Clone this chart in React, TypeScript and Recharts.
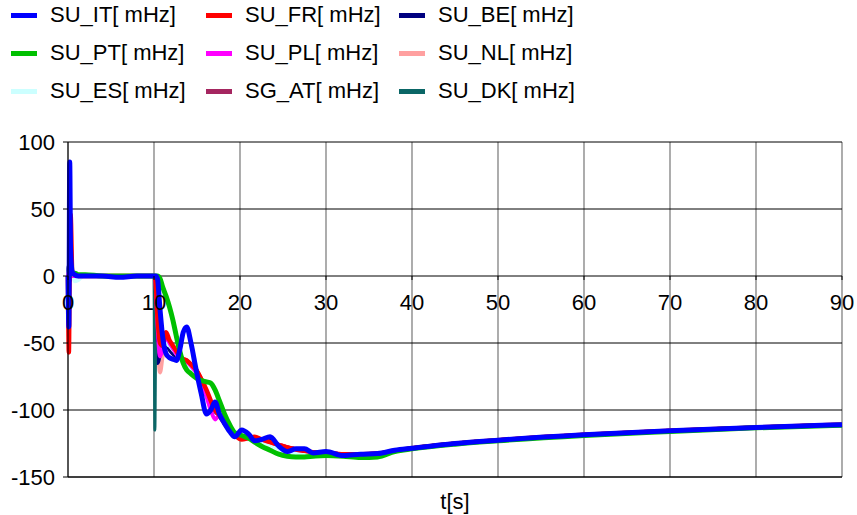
import React from 'react';
import { LineChart, Line, XAxis, YAxis, CartesianGrid } from 'recharts';

// time axis [s]
const time = [
  0, 0.1, 0.2, 0.3, 0.5, 0.8, 1.2, 2, 4, 6,
  8, 10, 10.1, 10.2, 10.4, 10.7, 11, 11.4, 11.8, 12.2,
  12.6, 13, 13.4, 13.8, 14.3, 14.9, 15.5, 16.1, 16.6, 17.1,
  17.6, 18.2, 18.8, 19.4, 20.2, 21, 21.7, 22.5, 23.5, 24.5,
  25.5, 26.5, 27.5, 28.5, 30, 32, 34, 36, 38, 40,
  45, 50, 60, 70, 80, 90,
];

const suIT = [
  0, -38, 85, 20, 3, 1, 0, 0, 0, -1,
  0, 0, 0, 0, -2, -25, -45, -58, -61, -62,
  -63, -55, -42, -38, -50, -70, -88, -103, -100, -94,
  -103, -110, -116, -120, -115, -118, -123, -122, -120, -127,
  -131, -129, -129, -132, -131, -134, -133, -132.5, -130, -128.5,
  -125, -122.5, -118.5, -115.5, -113, -111,
];
const suFR = [
  0, -57, 10, 46, 3, 1, 0, 0, 0, 0,
  0, 0, 0, -5, -30, -50, -52, -42, -48, -52,
  -56, -60, -62, -63, -66, -70, -77, -85, -93, -100,
  -104, -110, -115, -119, -122, -121, -120, -122, -124, -126,
  -128, -129.5, -130.5, -131.5, -132, -133, -133, -132.5, -130.5, -128.5,
  -125, -122.5, -118.5, -115.5, -113, -111,
];
const suBE = [
  0, 8, -4, 2, 1, 0, 0, 0, 0, 0,
  0, 0, 0, -20, -65, -58, -48, -50, -55, -58,
  -60, -62, -63, -64, -66, -71, -78, -88, -96, -101,
  -104, -109, -114, -118, -120, -120, -121, -122, -123, -126,
  -128, -129, -130, -131.5, -132, -133, -133, -132.5, -130.5, -128.5,
  -125, -122.5, -118.5, -115.5, -113, -111,
];
const suPT = [
  0, 0, 2, 1, 2, 2, 1, 1, 0, 0,
  0, 0, 0, 0, 0, -2, -8, -15, -23, -33,
  -45, -56, -65, -70, -73, -76, -78, -79, -80, -85,
  -93, -103, -111, -117, -119, -121, -124, -127, -130, -133,
  -134.5, -135, -135, -134.5, -134, -134.5, -135.5, -135, -131, -129,
  -125.5, -123, -119, -116, -113.3, -111.3,
];
const suPL = [
  0, 3, -2, 1, 0, 0, 0, 0, 0, 0,
  0, 0, 0, -8, -35, -60, -55, -45, -50, -54,
  -58, -61, -63, -64, -67, -72, -80, -90, -100, -107,
  -104, -110, -115, -119, -121, -121, -121, -122, -124, -126,
  -128, -129.5, -130.5, -131.5, -132, -133, -133, -132.5, -130.5, -128.5,
  -125, -122.5, -118.5, -115.5, -113, -111,
];
const suNL = [
  0, -3, 4, -1, 0, 0, 0, 0, 0, 0,
  0, 0, 0, -15, -45, -72, -60, -50, -52, -55,
  -58, -61, -63, -64, -67, -71, -78, -87, -95, -100,
  -104, -109, -114, -118, -120, -120, -121, -122, -124, -126,
  -128, -129.5, -130.5, -131.5, -132, -133, -133, -132.5, -130.5, -128.5,
  -125, -122.5, -118.5, -115.5, -113, -111,
];
const suES = [
  0, 5, 15, 27, 8, -4, -3, 1, 0, 0,
  0, 0, 0, -3, -15, -35, -45, -50, -52, -55,
  -58, -62, -65, -67, -70, -74, -80, -88, -95, -100,
  -104, -109, -114, -118, -121, -122, -123, -124, -126, -129,
  -131, -132, -132.5, -133, -133, -133.5, -134, -133.5, -131, -129,
  -125, -122.5, -118.5, -115.5, -113, -111,
];
const sgAT = [
  0, 2, -3, 1, 0, 0, 0, 0, 0, 0,
  0, 0, 0, -10, -40, -55, -50, -45, -50, -54,
  -57, -60, -62, -63, -66, -70, -77, -86, -94, -100,
  -104, -110, -115, -119, -121, -121, -121, -122, -124, -126,
  -128, -129.5, -130.5, -131.5, -132, -133, -133, -132.5, -130.5, -128.5,
  -125, -122.5, -118.5, -115.5, -113, -111,
];
const suDK = [
  0, 1, -1, 0, 0, 0, 0, 0, 0, 0,
  0, 0, -115, -50, -55, -58, -52, -48, -52, -55,
  -58, -61, -63, -64, -67, -71, -78, -87, -95, -100,
  -104, -109, -114, -118, -120, -120, -121, -122, -124, -126,
  -128, -129.5, -130.5, -131.5, -132, -133, -133, -132.5, -130.5, -128.5,
  -125, -122.5, -118.5, -115.5, -113, -111,
];

const xTicks = [0, 10, 20, 30, 40, 50, 60, 70, 80, 90];
const yTicks = [-150, -100, -50, 0, 50, 100];

// legend order (3 columns, row by row)
const series = [
  { key: 'IT', name: 'SU_IT[ mHz]', color: '#0000ff', values: suIT, width: 5 },
  { key: 'FR', name: 'SU_FR[ mHz]', color: '#ff0000', values: suFR, width: 4.5 },
  { key: 'BE', name: 'SU_BE[ mHz]', color: '#000080', values: suBE, width: 4 },
  { key: 'PT', name: 'SU_PT[ mHz]', color: '#00c000', values: suPT, width: 5 },
  { key: 'PL', name: 'SU_PL[ mHz]', color: '#ff00ff', values: suPL, width: 4 },
  { key: 'NL', name: 'SU_NL[ mHz]', color: '#ffa0a0', values: suNL, width: 4 },
  { key: 'ES', name: 'SU_ES[ mHz]', color: '#ccffff', values: suES, width: 4 },
  { key: 'AT', name: 'SG_AT[ mHz]', color: '#a52660', values: sgAT, width: 4 },
  { key: 'DK', name: 'SU_DK[ mHz]', color: '#0a6666', values: suDK, width: 3 },
];

// bottom -> top
const drawOrder = ['AT', 'NL', 'BE', 'DK', 'ES', 'PL', 'FR', 'PT', 'IT'];

const data = time.map((t, i) => {
  const row: any = { t };
  series.forEach((s) => (row[s.key] = s.values[i]));
  return row;
});

const W = 857;
const H = 515;
const TOP = 142;
const X_AXIS_H = 38;
const PLOT_H = H - TOP - X_AXIS_H;
const ZERO_Y = TOP + PLOT_H * (100 / 250);
const FONT = '"Liberation Sans", Arial, sans-serif';
const FS = 22;

const legendCols = [11, 206, 399];
const legendRows = [15, 53, 91];

const XTick = (props: any) => {
  const { x, payload } = props;
  return (
    <g>
      <line x1={x} x2={x} y1={ZERO_Y} y2={ZERO_Y + 4} stroke="#000" />
      <text x={x} y={ZERO_Y + 26} textAnchor="middle" dominantBaseline="central" fill="#000" fontSize={FS} fontFamily={FONT}>
        {payload.value}
      </text>
    </g>
  );
};

export default function App() {
  return (
    <div style={{ position: 'absolute', left: 0, top: 0, width: W, height: H, background: '#fff', fontFamily: FONT }}>
      {series.map((s, i) => {
        const left = legendCols[i % 3];
        const cy = legendRows[Math.floor(i / 3)];
        return (
          <div key={s.key} style={{ position: 'absolute', left, top: cy - 13, height: 26, display: 'flex', alignItems: 'center', whiteSpace: 'nowrap' }}>
            <div style={{ width: 26, height: 5, background: s.color }} />
            <span style={{ marginLeft: 13, fontSize: FS, color: '#000' }}>{s.name}</span>
          </div>
        );
      })}
      <LineChart width={W} height={H} data={data} margin={{ top: TOP, right: 15, bottom: 0, left: 0 }} style={{ position: 'absolute', left: 0, top: 0 }}>
        <CartesianGrid horizontal={false} stroke="#808080" strokeWidth={1.3} />
        <CartesianGrid vertical={false} stroke="#000" />
        <XAxis
          dataKey="t"
          type="number"
          domain={[0, 90]}
          ticks={xTicks}
          height={X_AXIS_H}
          tickLine={false}
          axisLine={{ stroke: '#000' }}
          tick={(p: any) => <XTick {...p} />}
          label={{ value: 't[s]', position: 'insideBottom', offset: 6, fill: '#000', fontSize: FS, fontFamily: FONT }}
        />
        <YAxis
          type="number"
          domain={[-150, 100]}
          ticks={yTicks}
          width={68}
          tickSize={5}
          tickMargin={8}
          axisLine={{ stroke: '#000' }}
          tickLine={{ stroke: '#000' }}
          tick={{ fill: '#000', fontSize: FS, fontFamily: FONT }}
        />
        {drawOrder.map((k) => {
          const s = series.find((x) => x.key === k)!;
          return (
            <Line
              key={k}
              type="monotone"
              dataKey={k}
              name={s.name}
              stroke={s.color}
              strokeWidth={s.width}
              strokeLinejoin="round"
              dot={false}
              isAnimationActive={false}
            />
          );
        })}
      </LineChart>
    </div>
  );
}
